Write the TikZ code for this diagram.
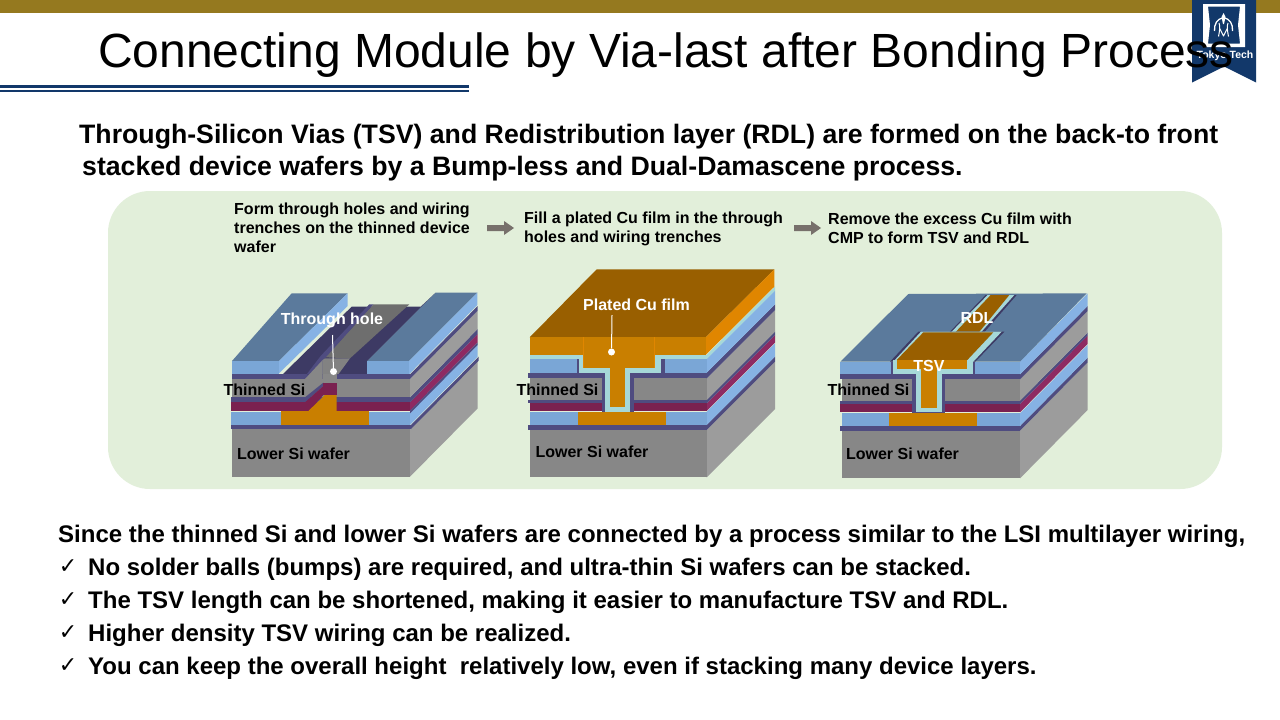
\documentclass[tikz,border=0pt]{standalone}
\usepackage{fontspec}
\setmainfont{Liberation Sans}
\newfontfamily\checkfont{DejaVu Sans}
\definecolor{gold}{HTML}{95791F}
\definecolor{navy}{HTML}{12386A}
\definecolor{panel}{HTML}{E2EFDA}
\definecolor{topblue}{HTML}{5B7A9C}
\definecolor{fblue}{HTML}{7AA6D6}
\definecolor{sblue}{HTML}{86B2E4}
\definecolor{trench}{HTML}{3D3A64}
\definecolor{dk}{HTML}{4F4C80}
\definecolor{fgray}{HTML}{878787}
\definecolor{sgray}{HTML}{9C9C9C}
\definecolor{hgray}{HTML}{6E6E6E}
\definecolor{crim}{HTML}{7A2150}
\definecolor{scrim}{HTML}{8E2A62}
\definecolor{cu}{HTML}{C97F00}
\definecolor{cutop}{HTML}{995F00}
\definecolor{cuside}{HTML}{E08600}
\definecolor{cyn}{HTML}{A6D8D8}
\definecolor{arrowgray}{HTML}{77706B}
\tikzset{
  blabel/.style={font=\fontsize{16}{19}\selectfont\bfseries,inner sep=0pt},
  wlabel/.style={blabel,text=white},
  headtext/.style={font=\fontsize{16}{19}\selectfont\bfseries,inner sep=0pt,align=left,anchor=west},
  bigtext/.style={font=\fontsize{26.67}{32}\selectfont\bfseries,inner sep=0pt,align=left,anchor=west},
  listtext/.style={font=\fontsize{24}{29}\selectfont\bfseries,inner sep=0pt,anchor=west},
  tick/.style={font=\checkfont\fontsize{22}{24}\selectfont,inner sep=0pt},
  leader/.style={white,line width=1pt},
  leaddot/.style={circle,fill=white,inner sep=0pt,minimum size=7pt},
  blockarrow/.style={fill=arrowgray},
  zoomed/.style={x=0.33333pt,y=-0.33333pt}
}
% \lay{x1}{x2}{y1}{y2}{front}{side} : front rectangle + receding right face
\newcommand{\lay}[6]{%
  \fill[#6] (#2,#3) -- ++(\dx,\dy) -- ++(0,#4-#3) -- (#2,#4) -- cycle;
  \fill[#5] (#1,#3) rectangle (#2,#4);}
\newcommand{\fr}[5]{\fill[#5] (#1,#3) rectangle (#2,#4);}
\begin{document}
\begin{tikzpicture}[x=1pt,y=-1pt]
\useasboundingbox (0,0) rectangle (1280,720);
\fill[white] (0,0) rectangle (1280,720);
\fill[gold] (0,0) rectangle (1280,13);
% rule
\fill[navy] (0,85) rectangle (469,87.5);
\fill[navy] (0,90) rectangle (469,92);
% logo
\fill[navy] (1192,0) -- (1256,0) -- (1256,82.5) -- (1224,66.5) -- (1192,82.5) -- cycle;
\fill[white,even odd rule] (1203,4) -- (1245,4) -- (1245,47) -- (1203,47) -- cycle
  (1208,6.5) -- (1240,6.5) -- (1238,25) -- (1240,43.5) -- (1208,43.5) -- (1210,25) -- cycle;
\draw[white,line width=1.3pt,line join=round] (1214.5,31) .. controls (1214,24) and (1217,19) .. (1223.5,17.5)
  .. controls (1230,19) and (1233,24) .. (1232.5,31);
\draw[white,line width=1pt,line join=round] (1219,23) .. controls (1220,26) and (1220,29) .. (1218.5,36.5)
  (1228,23) .. controls (1227,26) and (1227,29) .. (1228.5,36.5)
  (1219.5,28) -- (1223.5,36) -- (1227.5,28);
\fill[white] (1223.5,13) -- (1225.5,17) -- (1224,24) -- (1223,24) -- (1221.5,17) -- cycle;
\node[font=\fontsize{10.5}{12}\selectfont\bfseries,text=white,inner sep=0pt] (logotext) at (1225,56) {Tokyo Tech};
% title
\node[font=\fontsize{48}{52}\selectfont,inner sep=0pt,anchor=base west] (title) at (98,67) {Connecting Module by Via-last after Bonding Process};
% intro
\node[bigtext] (intro) at (79,152.5) {Through-Silicon Vias (TSV) and Redistribution layer (RDL) are formed on the back-to front\\\hspace*{3pt}stacked device wafers by a Bump-less and Dual-Damascene process.};
% panel
\fill[panel,rounded corners=42pt] (108,191) rectangle (1222,489);
\node[headtext] (step1) at (234,227.5) {Form through holes and wiring\\trenches on the thinned device\\wafer};
\node[headtext] (step2) at (524,228.5) {Fill a plated Cu film in the through\\holes and wiring trenches};
\node[headtext] (step3) at (828,228) {Remove the excess Cu film with\\CMP to form TSV and RDL};
\fill[blockarrow] (487,225) -- (504,225) -- (504,221) -- (514,228) -- (504,235) -- (504,231) -- (487,231) -- cycle;
\fill[blockarrow] (794,225) -- (811,225) -- (811,221) -- (821,228) -- (811,235) -- (811,231) -- (794,231) -- cycle;

% ===== block 1 =====
\begin{scope}[shift={(210,280)},zoomed]
\def\dx{203}\def\dy{-205}
\lay{66}{600}{447}{590}{fgray}{sgray}
\lay{62}{603}{435}{447}{dk}{dk}
\lay{64}{600}{395}{435}{fblue}{sblue}
\fr{212}{478}{395}{435}{cu}
\lay{64}{600}{367}{392}{crim}{scrim}
\fill[dk] (600,392) -- ++(203,-205) -- ++(0,8) -- (600,400) -- cycle;
\lay{62}{600}{352}{367}{dk}{dk}
\lay{66}{600}{297}{352}{fgray}{sgray}
\lay{66}{600}{283}{297}{dk}{dk}
% trench floor
\fill[trench] (218,283) -- (425,80) -- (632,80) -- (677,38) -- (472,243) -- (472,285) -- (385,285) -- cycle;
\fill[hgray] (345,232) -- (490,73) -- (598,73) -- (420,235) -- cycle;
\fill[dk] (290,283) -- (340,283) -- (340,240) -- (490,73) -- (478,73) -- (332,228) -- cycle;
\fill[fgray!80!hgray] (338,283) -- (338,240) -- (345,235) -- (420,235) -- (385,283) -- cycle;
% left strip
\fill[topblue] (66,243) -- (207,243) -- (413,40) -- (245,40) -- cycle;
\fill[sblue] (207,243) -- (413,40) -- (413,78) -- (207,280) -- cycle;
\fr{66}{207}{243}{283}{fblue}
% right strip
\fill[topblue] (472,243) -- (597,243) -- (802,38) -- (677,38) -- cycle;
\fill[sblue] (597,243) -- (802,38) -- (802,75) -- (597,283) -- cycle;
\fr{472}{597}{243}{283}{fblue}
\fr{66}{290}{283}{297}{dk}
\fr{385}{600}{283}{297}{dk}
% cut-out at the front
\fr{340}{380}{283}{310}{fgray}
\fill[fgray] (285,297) -- (338,240) -- (338,308) -- (285,352) -- cycle;
\fill[dk] (285,352) -- (340,308) -- (340,318) -- (285,367) -- cycle;
\fill[crim] (285,367) -- (340,318) -- (340,345) -- (296,392) -- (285,392) -- cycle;
\fr{340}{380}{308}{345}{crim}
\fill[cu] (296,392) -- (345,345) -- (380,345) -- (380,395) -- (296,395) -- cycle;
\fr{212}{478}{392}{396}{cu}
\end{scope}

% ===== block 2 =====
\begin{scope}[shift={(510,260)},zoomed]
\def\dx{205}\def\dy{-205}
\lay{59}{590}{510}{652}{fgray}{sgray}
\lay{55}{590}{495}{510}{dk}{dk}
\lay{59}{590}{455}{495}{fblue}{sblue}
\fr{203}{467}{455}{495}{cu}
\lay{59}{590}{430}{453}{crim}{scrim}
\lay{55}{590}{420}{430}{dk}{dk}
\lay{59}{590}{355}{420}{fgray}{sgray}
\lay{55}{590}{338}{355}{dk}{dk}
\lay{59}{590}{297}{338}{fblue}{sblue}
\lay{59}{590}{285}{297}{cyn}{cyn}
\fill[cutop] (59,232) -- (260,28) -- (793,28) -- (587,232) -- cycle;
\fill[cuside] (587,232) -- (793,28) -- (793,80) -- (587,285) -- cycle;
\fr{59}{587}{232}{285}{cu}
% via cross-section
\fr{200}{465}{297}{340}{dk}
\fr{207}{452}{285}{338}{cyn}
\fr{275}{372}{338}{457}{dk}
\fr{285}{360}{325}{455}{cyn}
\fr{220}{435}{232}{325}{cu}
\fr{220}{222}{232}{325}{cuside}
\fr{433}{435}{232}{325}{cuside}
\fr{300}{345}{322}{442}{cu}
\end{scope}

% ===== block 3 =====
\begin{scope}[shift={(820,280)},zoomed]
\def\dx{203}\def\dy{-205}
\lay{65}{600}{452}{595}{fgray}{sgray}
\lay{61}{600}{438}{452}{dk}{dk}
\lay{65}{600}{400}{438}{fblue}{sblue}
\fr{208}{472}{400}{438}{cu}
\lay{61}{600}{372}{397}{crim}{scrim}
\lay{59}{600}{362}{372}{dk}{dk}
\lay{65}{600}{298}{362}{fgray}{sgray}
\lay{61}{600}{283}{298}{dk}{dk}
\lay{61}{600}{245}{283}{fblue}{sblue}
\fill[topblue] (61,245) -- (265,42) -- (800,40) -- (600,245) -- cycle;
% RDL strip
\fill[trench] (385,160) -- (497,45) -- (590,45) -- (490,160) -- cycle;
\fill[cyn] (392,158) -- (503,45) -- (583,45) -- (482,158) -- cycle;
\fill[cutop] (405,158) -- (512,45) -- (568,45) -- (476,158) -- cycle;
% pad
\fill[trench] (210,245) -- (295,155) -- (553,155) -- (466,245) -- cycle;
\fill[cyn] (220,245) -- (303,155) -- (545,155) -- (460,245) -- cycle;
\fill[cutop] (230,240) -- (310,157) -- (520,157) -- (442,240) -- cycle;
% cross-section
\fr{212}{466}{245}{283}{dk}
\fr{220}{460}{240}{283}{cyn}
\fr{230}{442}{240}{267}{cu}
\fr{277}{376}{283}{400}{dk}
\fr{288}{366}{267}{397}{cyn}
\fr{302}{352}{267}{385}{cu}
\end{scope}

% labels in the blocks
\node[wlabel] (lb1) at (332,320) {Through hole};
\node[leaddot] (dot1) at (333.5,371.5) {};
\coordinate (top1) at (332.5,335);
\draw[leader] (top1) -- (dot1);
\node[blabel] (th1) at (264.5,390) {Thinned Si};
\node[blabel] (lo1) at (293.5,454) {Lower Si wafer};
\node[wlabel] (lb2) at (636.5,305) {Plated Cu film};
\node[leaddot] (dot2) at (611.5,352) {};
\coordinate (top2) at (612,315);
\draw[leader] (top2) -- (dot2);
\node[blabel] (th2) at (557.5,390) {Thinned Si};
\node[blabel] (lo2) at (592,452) {Lower Si wafer};
\node[wlabel] (rdl) at (977,318) {RDL};
\node[wlabel] (tsv) at (929,366) {TSV};
\node[blabel] (th3) at (868.5,390) {Thinned Si};
\node[blabel] (lo3) at (902.5,454) {Lower Si wafer};

% lower text
\node[listtext] (since) at (58,536) {Since the thinned Si and lower Si wafers are connected by a process similar to the LSI multilayer wiring,};
\node[tick] (c1) at (68,567) {✓};
\node[listtext] (l1) at (88,569) {No solder balls (bumps) are required, and ultra-thin Si wafers can be stacked.};
\node[tick] (c2) at (68,600) {✓};
\node[listtext] (l2) at (88,602) {The TSV length can be shortened, making it easier to manufacture TSV and RDL.};
\node[tick] (c3) at (68,633) {✓};
\node[listtext] (l3) at (88,635) {Higher density TSV wiring can be realized.};
\node[tick] (c4) at (68,666) {✓};
\node[listtext] (l4) at (88,668) {You can keep the overall height\ \ relatively low, even if stacking many device layers.};
\end{tikzpicture}
\end{document}
